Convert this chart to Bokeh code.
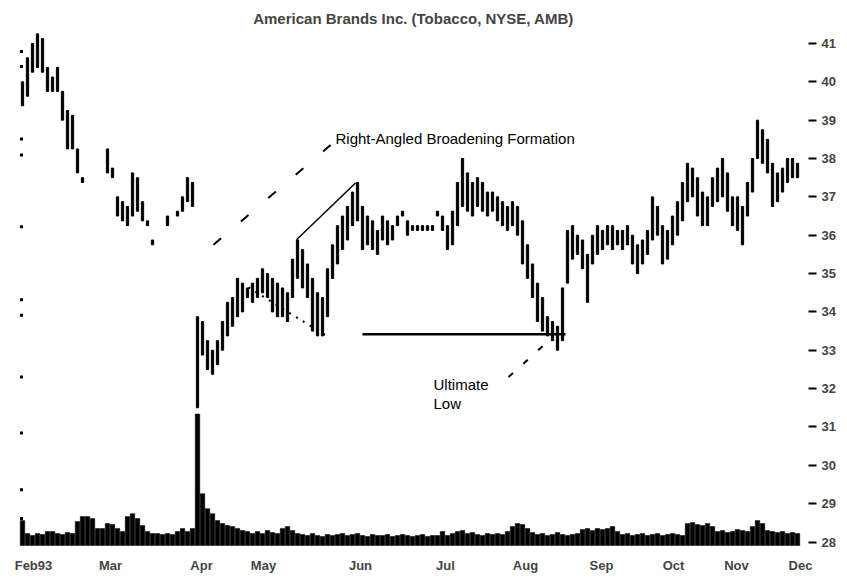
import numpy as np
from bokeh.plotting import figure
from bokeh.models import Range1d, FixedTicker, Label, ColumnDataSource
from bokeh.embed import file_html
from bokeh.resources import INLINE

# ---- data (daily bars, price in dollars, volume in thousands of shares) ----
highs = [
    40.0, 40.625, 41.0, 41.25, 41.125, 40.375, 40.125, 40.375, 39.75, 39.25,
    39.125, 38.25, 37.5, None, None, None, None, 38.25, 37.75, 37.0,
    36.875, 36.75, 37.625, 37.5, 36.875, 36.375, 35.875, None, None, 36.5,
    None, 36.625, 37.0, 37.5, 37.375, 33.875, 33.75, 33.25, 33.0, 33.25,
    33.75, 34.25, 34.375, 34.875, 34.75, 34.625, 34.75, 34.875, 35.125, 35.0,
    34.875, 34.75, 34.625, 34.5, 35.375, 35.875, 35.625, 35.25, 34.875, 34.5,
    34.375, 35.125, 35.75, 36.25, 36.5, 36.75, 37.125, 37.375, 36.75, 36.5,
    36.375, 36.125, 36.5, 36.375, 36.25, 36.5, 36.625, 36.375, 36.25, 36.25,
    36.25, 36.25, 36.25, 36.625, 36.5, 36.25, 36.625, 37.375, 38.0, 37.625,
    37.375, 37.5, 37.375, 37.125, 37.125, 37.0, 36.875, 36.75, 36.875, 36.75,
    36.375, 35.75, 35.25, 34.75, 34.375, 33.875, 33.75, 33.625, 34.625, 36.125,
    36.25, 36.0, 35.875, 35.5, 36.0, 36.25, 36.125, 36.25, 36.25, 36.125,
    36.125, 36.25, 36.0, 35.75, 35.875, 36.125, 37.0, 36.75, 36.25, 36.125,
    36.5, 36.875, 37.375, 37.875, 37.75, 37.5, 37.125, 37.0, 37.5, 37.75,
    38.0, 37.625, 37.0, 37.0, 36.75, 37.375, 38.0, 39.0, 38.75, 38.5,
    37.875, 37.625, 37.75, 38.0, 38.0, 37.875,
]
lows = [
    39.375, 39.625, 40.25, 40.375, 40.25, 39.75, 39.75, 39.75, 39.0, 38.25,
    38.25, 37.625, 37.375, None, None, None, None, 37.625, 37.5, 36.5,
    36.375, 36.25, 36.5, 36.625, 36.375, 36.25, 35.75, None, None, 36.25,
    None, 36.5, 36.625, 36.875, 36.75, 31.5, 32.875, 32.5, 32.375, 32.625,
    33.0, 33.375, 33.625, 33.875, 34.0, 34.375, 34.25, 34.375, 34.5, 34.375,
    34.0, 33.875, 33.875, 33.75, 34.375, 34.875, 34.625, 34.375, 33.5, 33.375,
    33.375, 33.875, 34.875, 35.25, 35.625, 35.875, 36.25, 36.375, 35.625, 35.75,
    35.625, 35.5, 35.875, 35.75, 35.875, 36.25, 36.5, 36.0, 36.125, 36.125,
    36.125, 36.125, 36.125, 36.5, 36.125, 35.625, 35.75, 36.25, 36.75, 36.625,
    36.5, 36.75, 36.625, 36.5, 36.625, 36.375, 36.25, 36.125, 36.25, 36.0,
    35.25, 34.875, 34.375, 33.75, 33.5, 33.375, 33.25, 33.0, 33.25, 34.75,
    35.375, 35.5, 35.125, 34.25, 35.25, 35.5, 35.625, 35.75, 35.625, 35.75,
    35.625, 35.75, 35.25, 35.0, 35.25, 35.5, 35.875, 36.0, 35.25, 35.375,
    35.75, 36.0, 36.375, 36.875, 37.0, 36.5, 36.25, 36.25, 36.75, 36.875,
    37.0, 36.625, 36.25, 36.125, 35.75, 36.5, 37.125, 38.0, 37.875, 37.625,
    36.75, 36.875, 37.125, 37.375, 37.5, 37.5,
]
volume = [
    750, 360, 300, 360, 330, 420, 420, 360, 330, 390,
    360, 720, 870, 870, 810, 510, 510, 660, 630, 510,
    420, 870, 960, 810, 600, 420, 360, 360, 330, 360,
    330, 420, 510, 420, 510, 3960, 1560, 1110, 960, 750,
    660, 600, 570, 510, 450, 420, 360, 420, 360, 450,
    390, 360, 510, 570, 450, 360, 330, 300, 360, 300,
    270, 330, 300, 330, 360, 300, 330, 360, 300, 270,
    330, 300, 300, 330, 270, 300, 330, 300, 270, 300,
    330, 270, 300, 300, 420, 300, 360, 420, 450, 360,
    390, 330, 300, 360, 330, 360, 330, 420, 570, 660,
    630, 510, 390, 330, 360, 300, 330, 390, 330, 300,
    330, 360, 480, 510, 450, 510, 480, 510, 570, 420,
    330, 360, 300, 330, 360, 300, 330, 360, 300, 330,
    360, 330, 300, 660, 690, 630, 600, 660, 570, 420,
    450, 390, 420, 480, 450, 420, 570, 750, 660, 450,
    420, 390, 420, 360, 390, 360,
]
days = list(range(len(highs)))

month_pos = [2.2, 17.6, 35.8, 48.2, 67.6, 84.6, 100.6, 115.8, 130.2, 142.8, 155.6]
month_names = ["Feb93", "Mar", "Apr", "May", "Jun", "Jul", "Aug", "Sep", "Oct", "Nov", "Dec"]
price_ticks = [41, 40, 39, 38, 37, 36, 35, 34, 33, 32, 31, 30, 29, 28]
left_ticks = [40.79, 40.40, 38.51, 38.09, 36.22, 34.32, 33.91, 32.30, 30.84, 29.36, 28.61]

# annotation lines (day index, price)
upper_x, upper_y = [54.8, 66.6], [35.88, 37.36]
lower_x, lower_y = [45.2, 61.2], [34.64, 33.34]
support_x, support_y = [68.0, 108.6], [33.42, 33.42]
lead1_x, lead1_y = [38.2, 61.6], [35.75, 38.35]
lead2_x, lead2_y = [97.2, 106.0], [32.30, 33.34]

FONT = "Liberation Sans"

src = ColumnDataSource(dict(
    day=days,
    high=np.array(highs, dtype=float),
    low=np.array(lows, dtype=float),
    vol=volume,
))

p = figure(width=845, height=575,
           x_range=Range1d(-0.8, 157.2), y_range=Range1d(27.883, 41.338),
           y_axis_location="right", toolbar_location=None, output_backend="svg",
           min_border_left=18, min_border_right=37, min_border_top=30, min_border_bottom=27,
           title="American Brands Inc. (Tobacco, NYSE, AMB)")
p.title.align = "center"
p.title.text_font = FONT
p.title.text_font_size = "15px"
p.title.text_font_style = "bold"
p.title.standoff = 7
p.outline_line_color = None
p.xgrid.visible = False
p.ygrid.visible = False
p.background_fill_color = "white"
p.border_fill_color = "white"

p.extra_y_ranges = {"vol": Range1d(-30, 15510)}

p.vbar(x="day", top="vol", bottom=0, width=0.9, y_range_name="vol",
       fill_color="black", line_color="black", line_width=0.5, source=src)
p.vbar(x="day", top="high", bottom="low", width=0.45,
       fill_color="black", line_color="black", line_width=1, source=src)

# left-edge tick marks
p.scatter(x=[-0.2] * len(left_ticks), y=left_ticks, marker="square", size=3,
          fill_color="black", line_color=None)

p.line(upper_x, upper_y, line_color="black", line_width=1.5)
p.line(lower_x, lower_y, line_color="black", line_width=2, line_dash="2 6")
p.line(support_x, support_y, line_color="black", line_width=2.5)
p.line(lead1_x, lead1_y, line_color="black", line_width=2, line_dash="10 26")
p.line(lead2_x, lead2_y, line_color="black", line_width=2, line_dash="6 14")

for txt, x, y in [("Right-Angled Broadening Formation", 62.6, 38.51),
                  ("Ultimate", 82.2, 32.12), ("Low", 82.2, 31.60)]:
    p.add_layout(Label(x=x, y=y, text=txt, text_font=FONT, text_font_size="15px",
                       text_baseline="middle", text_align="left", text_color="black"))

# right price axis
ya = p.yaxis[0]
ya.ticker = FixedTicker(ticks=price_ticks)
ya.axis_line_color = None
ya.major_tick_in = 0
ya.major_tick_out = 8
ya.major_tick_line_width = 2
ya.minor_tick_line_color = None
ya.major_label_standoff = 5
ya.major_label_text_font = FONT
ya.major_label_text_font_size = "13px"
ya.major_label_text_font_style = "bold"

# bottom month axis
xa = p.xaxis[0]
xa.ticker = FixedTicker(ticks=month_pos)
xa.major_label_overrides = {pos: name for pos, name in zip(month_pos, month_names)}
xa.axis_line_color = None
xa.major_tick_line_color = None
xa.minor_tick_line_color = None
xa.major_label_standoff = 5
xa.major_label_text_font = FONT
xa.major_label_text_font_size = "13px"
xa.major_label_text_font_style = "bold"

open("out.html", "w").write(file_html(p, INLINE))
